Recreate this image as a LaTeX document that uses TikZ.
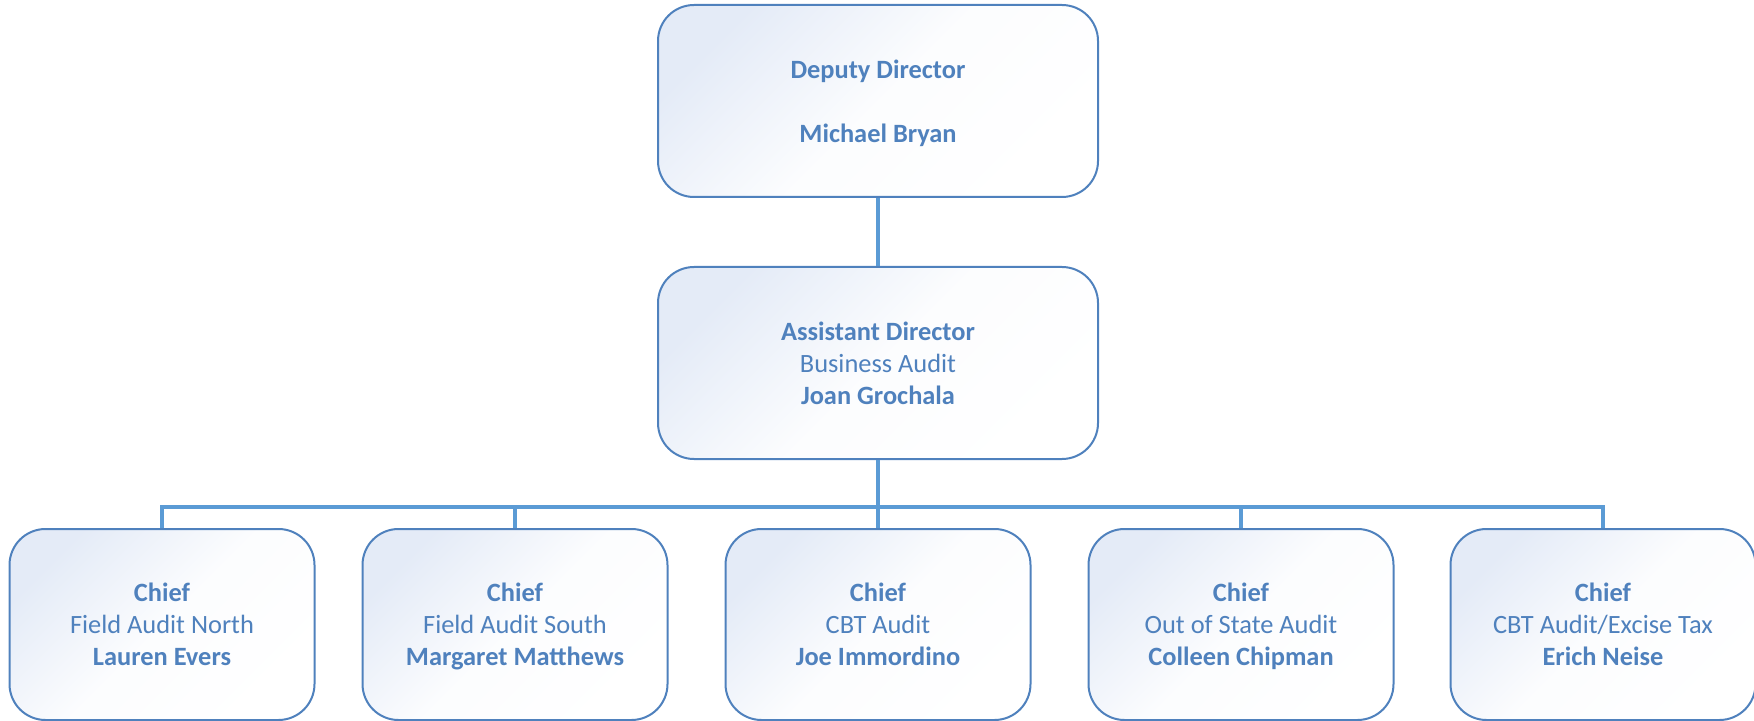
\documentclass[tikz,border=0pt]{standalone}
\usepackage{fontspec}
\setmainfont{Carlito}
\definecolor{orgblue}{RGB}{79,129,189}
\definecolor{linkblue}{RGB}{91,155,213}
\definecolor{shadeblue}{RGB}{228,235,247}

\begin{document}
\begin{tikzpicture}[
  x=0.5pt, y=-0.5pt,
  box/.style={draw=orgblue, line width=1pt, rounded corners=18pt, top color=shadeblue, bottom color=white, middle color=white!88!shadeblue, shading angle=45, text=orgblue, align=center, inner sep=0pt, text depth=0pt, font=\fontsize{13.2}{16}\selectfont},
  bigbox/.style={box, minimum width=220pt, minimum height=96pt},
  chiefbox/.style={box, minimum width=152.5pt, minimum height=95.5pt},
  link/.style={draw=linkblue, line width=2pt},
]
  \useasboundingbox (0,0) rectangle (1754,721);

  \node[bigbox] (deputy) at (878,101) {\textbf{Deputy Director}\\[16pt]\textbf{Michael Bryan}};
  \node[bigbox] (asst) at (878,363) {\textbf{Assistant Director}\\Business Audit\\\textbf{Joan Grochala}};

  \node[chiefbox] (north) at (162,624.5) {\textbf{Chief}\\Field Audit North\\\textbf{Lauren Evers}};
  \node[chiefbox] (south) at (515,624.5) {\textbf{Chief}\\Field Audit South\\\textbf{Margaret Matthews}};
  \node[chiefbox] (cbt) at (878,624.5) {\textbf{Chief}\\CBT Audit\\\textbf{Joe Immordino}};
  \node[chiefbox] (outstate) at (1241,624.5) {\textbf{Chief}\\Out of State Audit\\\textbf{Colleen Chipman}};
  \node[chiefbox] (excise) at (1603,624.5) {\textbf{Chief}\\CBT Audit/Excise Tax\\\textbf{Erich Neise}};

  \draw[link] (deputy) -- (asst);
  \draw[link] (asst.south) -- ++(0,47) -| (north.north);
  \draw[link] (asst.south) -- ++(0,47) -| (south.north);
  \draw[link] (asst.south) -- (cbt.north);
  \draw[link] (asst.south) -- ++(0,47) -| (outstate.north);
  \draw[link] (asst.south) -- ++(0,47) -| (excise.north);
\end{tikzpicture}
\end{document}
